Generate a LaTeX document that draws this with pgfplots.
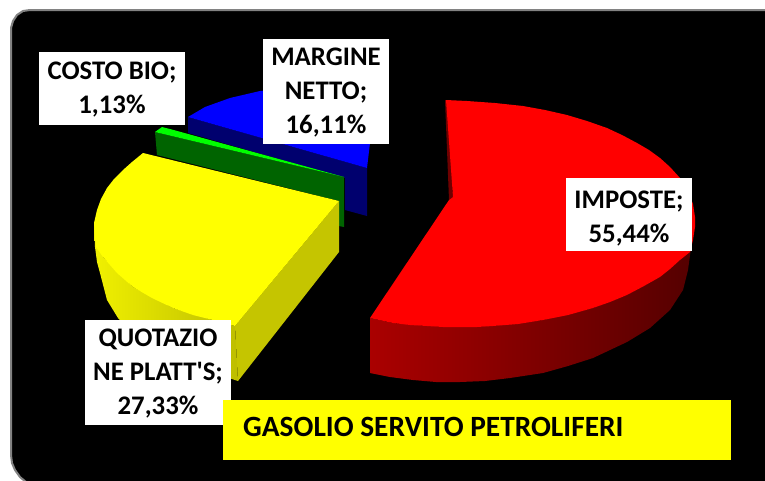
\documentclass[border=0pt]{standalone}
\usepackage{pgfplots}
\pgfplotsset{compat=1.18}
\usepackage{fontspec}
\setmainfont{Carlito}
\newfontfamily\pf{Carlito}
\definecolor{navy1}{RGB}{0,0,110}
\definecolor{green1}{RGB}{0,100,0}
\definecolor{yell1}{RGB}{255,255,0}
\definecolor{yell2}{RGB}{197,197,0}
\definecolor{yellA}{RGB}{240,240,0}
\definecolor{yellB}{RGB}{190,190,0}
\definecolor{red1}{RGB}{255,0,0}
\definecolor{redA}{RGB}{170,0,0}
\definecolor{redB}{RGB}{85,0,0}
\definecolor{redC}{RGB}{110,0,0}
\definecolor{blue1}{RGB}{0,0,255}
\definecolor{green2}{RGB}{0,255,0}
\definecolor{border}{RGB}{130,130,130}
\tikzset{lbl/.style={inner sep=0pt, align=center, font=\fontsize{26.8}{34}\selectfont\pf\bfseries, text=black}}
\begin{document}
\begin{tikzpicture}
\begin{axis}[
  scale only axis, width=765pt, height=480pt,
  xmin=0, xmax=765, ymin=0, ymax=480, y dir=reverse,
  axis lines=none, clip=true, ticks=none,
]
% page and chart area
\addplot[fill=white, draw=none] coordinates {(0,0)(765,0)(765,480)(0,480)} --cycle;
\addplot[fill=black, draw=border, line width=2pt] coordinates {
 (775,10)(30,10)(23,11)(17,15)(13,21)(11,28)(11,455)(12,463)(15,470)(20,477)(26,482)(775,490)} --cycle;
% blue slice
\addplot[fill=navy1, draw=none] coordinates {(188,117)(367,168)(367,216)(345,210)(345,178)(188,133)} --cycle;
\addplot[fill=blue1, draw=none] coordinates {(188,117)(205,107)(230,98)(260,91)(300,87)(340,85)(372,85)(370,143)(367,168)} --cycle;
% green slice
\addplot[fill=green1, draw=none] coordinates {(155,132)(344,177)(344,227)(339,226)(339,201)(157,155)} --cycle;
\addplot[fill=green2, draw=none] coordinates {(162,127)(170,129)(344,177)(155,132)} --cycle;
% yellow slice
\addplot[draw=none, left color=yellA, right color=yellB] coordinates {
 (94,223)(95,247)(97,262)(100,273)(107,300)(118,318)(135,335)(170,355)(205,370)(238,381)(235,326)(213,320)(173,308)(133,287)(103,257)} --cycle;
\addplot[fill=yell2, draw=none] coordinates {(339,201)(339,252)(238,381)(235,326)} --cycle;
\addplot[fill=yell1, draw=none] coordinates {
 (339,201)(143,153)(132,162)(123,170)(114,179)(107,188)(101,199)(97,210)(94,223)(95,237)(96,247)(103,257)(117,273)(133,287)(152,298)(173,308)(193,315)(213,320)(235,326)} --cycle;
% red slice
\addplot[draw=none, left color=redA, right color=redB] coordinates {
 (370,318)(370,373)(390,377)(413,380)(436,382)(460,382)(485,381)(510,378)(543,373)(568,366)(593,358)(627,342)(650,328)(670,310)(683,290)(688,270)(691,248)(680,260)(660,277)(627,295)(593,308)(543,320)(493,326)(460,327)(427,326)(393,323)} --cycle;
\addplot[fill=redC, draw=none] coordinates {(445,100)(448,100)(453,197)(449,200)} --cycle;
\addplot[fill=red1, draw=none] coordinates {
 (446,100)(467,101)(495,103)(523,106)(545,110)(567,115)(587,121)(607,128)(622,135)(637,143)(649,150)(660,158)(670,167)(680,178)(688,191)(693,204)(695,217)(695,227)(693,240)(690,252)(680,260)(670,269)(660,277)(644,286)(627,295)(610,302)(593,308)(568,315)(543,320)(518,324)(493,326)(477,327)(460,327)(443,327)(427,326)(410,325)(393,323)(370,318)(449,200)(453,197)} --cycle;
% data labels
\addplot[fill=white, draw=none] coordinates {(39,52)(185,52)(185,125)(39,125)} --cycle;
\addplot[fill=white, draw=none] coordinates {(263,39)(389,39)(389,144)(263,144)} --cycle;
\addplot[fill=white, draw=none] coordinates {(85,320)(231,320)(231,425)(85,425)} --cycle;
\addplot[fill=white, draw=none] coordinates {(566,178)(692,178)(692,251)(566,251)} --cycle;
\node[lbl] at (axis cs:112,90) {COSTO BIO;\\1,13\%};
\node[lbl] at (axis cs:326,93) {MARGINE\\NETTO;\\16,11\%};
\node[lbl] at (axis cs:158,374) {QUOTAZIO\\NE PLATT'S;\\27,33\%};
\node[lbl] at (axis cs:629,218.5) {IMPOSTE;\\55,44\%};
% title box
\addplot[fill=yell1, draw=none] coordinates {(223,400)(731,400)(731,460)(223,460)} --cycle;
\node[anchor=west, inner sep=0pt, font=\fontsize{29.4}{32}\selectfont\bfseries, text=black] at (axis cs:243,427) {GASOLIO SERVITO PETROLIFERI};
\end{axis}
\end{tikzpicture}
\end{document}
